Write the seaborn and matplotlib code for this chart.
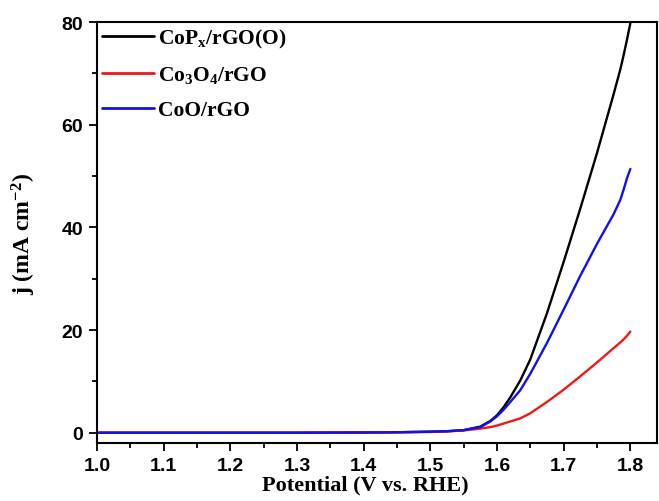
import matplotlib
matplotlib.use("Agg")
import matplotlib.pyplot as plt
from matplotlib.ticker import MultipleLocator
import numpy as np
import pandas as pd
import seaborn as sns

# Linear sweep voltammetry: potential (V vs. RHE) and current density (mA cm^-2)
potential = [1.00, 1.10, 1.20, 1.30, 1.40, 1.45, 1.50, 1.525, 1.55, 1.575, 1.59,
             1.60, 1.61, 1.62, 1.635, 1.65, 1.675, 1.70, 1.725, 1.75, 1.775,
             1.785, 1.79, 1.795, 1.80]

j_copx = [0.0, 0.0, 0.0, 0.0, 0.05, 0.1, 0.2, 0.3, 0.5, 1.2, 2.3,
          3.4, 5.0, 6.9, 10.2, 14.3, 23.3, 33.3, 43.7, 54.5, 66.0,
          70.8, 73.6, 76.6, 79.8]
j_co3o4 = [0.0, 0.0, 0.0, 0.0, 0.05, 0.1, 0.15, 0.25, 0.45, 0.8, 1.1,
           1.4, 1.8, 2.2, 2.8, 3.8, 6.0, 8.4, 11.0, 13.7, 16.5,
           17.6, 18.2, 18.9, 19.7]
j_coo = [0.0, 0.0, 0.0, 0.0, 0.05, 0.1, 0.2, 0.3, 0.5, 1.1, 2.2,
         3.2, 4.5, 6.0, 8.3, 11.5, 17.5, 24.0, 30.6, 36.8, 42.6,
         45.4, 47.4, 49.6, 51.4]

labels = ["CoP$_{x}$/rGO(O)", "Co$_{3}$O$_{4}$/rGO", "CoO/rGO"]
colors = ["#000000", "#f01818", "#1010f0"]

df = pd.concat([
    pd.DataFrame({"E": potential, "j": vals, "sample": lab})
    for lab, vals in zip(labels, [j_copx, j_co3o4, j_coo])
], ignore_index=True)

sns.set_style("white")
plt.rcParams["mathtext.default"] = "regular"
plt.rcParams["text.color"] = "black"
plt.rcParams["axes.labelcolor"] = "black"
plt.rcParams["xtick.color"] = "black"
plt.rcParams["ytick.color"] = "black"

fig = plt.figure(figsize=(6.59, 5.02), dpi=100)
ax = fig.add_axes([0.147, 0.1155, 0.85, 0.8385])

sns.lineplot(data=df, x="E", y="j", hue="sample", hue_order=labels,
             palette=colors, linewidth=1.7, sort=False, estimator=None, ax=ax)

ax.set_xlim(1.0, 1.84)
ax.set_ylim(-2, 80)
ax.xaxis.set_major_locator(MultipleLocator(0.1))
ax.xaxis.set_minor_locator(MultipleLocator(0.05))
ax.yaxis.set_major_locator(MultipleLocator(20))
ax.yaxis.set_minor_locator(MultipleLocator(10))
ax.tick_params(which="both", direction="out", width=1.3, color="black",
               labelcolor="black",
               bottom=True, left=True, top=False, right=False)
ax.tick_params(which="major", length=6, pad=4)
ax.tick_params(which="minor", length=3.5)
for sp in ax.spines.values():
    sp.set_color("black")
    sp.set_linewidth(1.5)

tick_font = dict(family="Liberation Sans", weight="bold", size=14)
ax.set_xticklabels([f"{v:.1f}" for v in ax.get_xticks()], fontdict=tick_font)
ax.set_yticklabels([f"{v:.0f}" for v in ax.get_yticks()], fontdict=tick_font)

ax.set_xlabel("Potential (V vs. RHE)", family="Liberation Serif",
              weight="bold", size=16, color="black")
ax.xaxis.set_label_coords(0.48, -0.075)
ax.set_ylabel("j (mA cm$^{-2}$)", family="Liberation Serif",
              weight="bold", size=17, color="black")
ax.yaxis.set_label_coords(-0.105, 0.5)

leg = ax.legend(loc="upper left", frameon=False, handlelength=2.45,
                handletextpad=0.15, labelspacing=0.68,
                borderaxespad=0.0, borderpad=0.22,
                prop=dict(family="Liberation Serif", weight="bold", size=15.5))
for line in leg.get_lines():
    line.set_linewidth(2.0)
for txt in leg.get_texts():
    txt.set_color("black")

fig.savefig("out.png", dpi=100)
